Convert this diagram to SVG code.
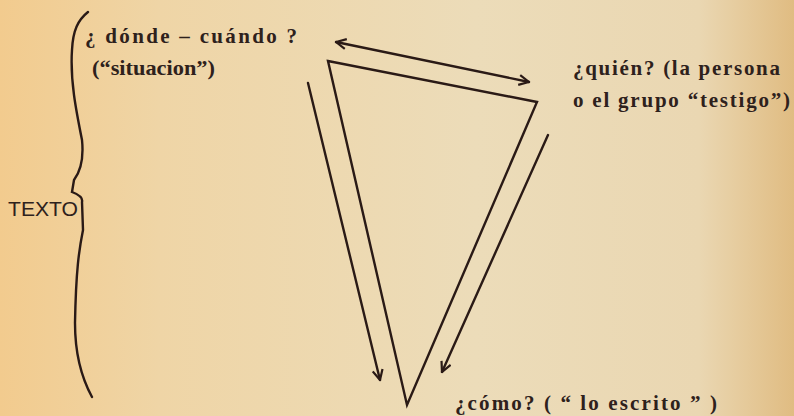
<svg xmlns="http://www.w3.org/2000/svg" width="794" height="416" viewBox="0 0 794 416">
<defs>
<linearGradient id="bg" x1="0" y1="0" x2="1" y2="0">
<stop offset="0" stop-color="#f2cb8e"/>
<stop offset="0.2" stop-color="#efd5a6"/>
<stop offset="0.6" stop-color="#ecdcb9"/>
<stop offset="0.88" stop-color="#ead7b2"/>
<stop offset="1" stop-color="#e0bc82"/>
</linearGradient>
<marker id="ah" viewBox="0 0 12 12" refX="11" refY="6" markerWidth="12" markerHeight="12" markerUnits="userSpaceOnUse" orient="auto-start-reverse">
<path d="M1,1 L11,6 L1,11" fill="none" stroke="#2a1a16" stroke-width="2.2"/>
</marker>
<style>
.ln{fill:none;stroke:#2a1a16;stroke-width:2.4;stroke-linecap:round;stroke-linejoin:miter}
.t{font-family:"Liberation Serif","Times New Roman",serif;font-weight:bold;fill:#2e211c;font-size:21px}
.s{font-family:"Liberation Sans",Arial,sans-serif;fill:#2e211c;font-size:21px}
</style>
</defs>
<rect width="794" height="416" fill="url(#bg)"/>
<g id="brace">
<path class="ln" stroke-width="2" d="M88,12 C78,20 73,30 72,50 C70,80 76,110 82,140 C84,160 80,172 74,180 L72,192 C80,195 83,198 82,202 L83,230 C79,250 76,270 75,323 C75,350 80,375 92,397"/>
<text class="s" x="8" y="216" textLength="70" lengthAdjust="spacingAndGlyphs">TEXTO</text>
</g>
<g id="donde">
<text class="t" x="85" y="43" font-size="19" textLength="212" lengthAdjust="spacing">¿ dónde – cuándo ?</text>
<text class="t" x="92" y="75" textLength="123" lengthAdjust="spacingAndGlyphs">(“situacion”)</text>
</g>
<g id="quien">
<text class="t" x="573" y="75" font-size="22" textLength="207" lengthAdjust="spacing">¿quién? (la persona</text>
<text class="t" x="573" y="107" font-size="22" textLength="217" lengthAdjust="spacing">o el grupo “testigo”)</text>
</g>
<g id="como">
<text class="t" x="455" y="410" textLength="262" lengthAdjust="spacing">¿cómo? ( “ lo escrito ” )</text>
</g>
<g id="triangle">
<path class="ln" d="M328,61 L537,102 L407,405 Z"/>
</g>
<g id="connectors">
<line class="ln" x1="336" y1="42" x2="529" y2="82" marker-start="url(#ah)" marker-end="url(#ah)"/>
<line class="ln" x1="308" y1="83" x2="380" y2="380" marker-end="url(#ah)"/>
<line class="ln" x1="548" y1="135" x2="442" y2="372" marker-end="url(#ah)"/>
</g>
</svg>
